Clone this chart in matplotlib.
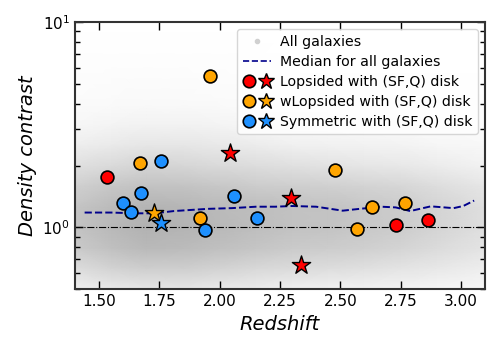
import matplotlib
matplotlib.use('Agg')
import matplotlib.pyplot as plt
from matplotlib.colors import LinearSegmentedColormap
from matplotlib.lines import Line2D
from matplotlib.legend_handler import HandlerTuple
import numpy as np

# background cloud of all galaxies, read as a density (0..1) on a coarse grid
grid_z = [1.40, 1.55, 1.70, 1.85, 2.00, 2.15, 2.30, 2.45, 2.60, 2.75, 2.90, 3.10]
grid_logd = [-0.30, -0.20, -0.10, 0.00, 0.10, 0.20, 0.30, 0.40, 0.50, 0.60, 0.80, 1.00]
cloud = [
    [0.18, 0.25, 0.30, 0.30, 0.25, 0.22, 0.18, 0.16, 0.15, 0.13, 0.11, 0.08],
    [0.40, 0.52, 0.58, 0.58, 0.52, 0.46, 0.42, 0.40, 0.36, 0.32, 0.27, 0.20],
    [0.62, 0.74, 0.82, 0.80, 0.74, 0.68, 0.62, 0.60, 0.56, 0.50, 0.42, 0.32],
    [0.70, 0.82, 0.90, 0.88, 0.82, 0.76, 0.72, 0.70, 0.65, 0.60, 0.50, 0.38],
    [0.68, 0.80, 0.88, 0.86, 0.80, 0.76, 0.72, 0.70, 0.65, 0.60, 0.50, 0.38],
    [0.55, 0.66, 0.72, 0.70, 0.66, 0.60, 0.58, 0.55, 0.52, 0.48, 0.40, 0.30],
    [0.36, 0.44, 0.50, 0.48, 0.44, 0.40, 0.36, 0.33, 0.30, 0.27, 0.22, 0.16],
    [0.20, 0.25, 0.30, 0.30, 0.26, 0.22, 0.18, 0.17, 0.16, 0.14, 0.11, 0.08],
    [0.10, 0.13, 0.16, 0.16, 0.13, 0.10, 0.08, 0.08, 0.07, 0.06, 0.05, 0.04],
    [0.05, 0.06, 0.07, 0.07, 0.06, 0.04, 0.04, 0.03, 0.03, 0.02, 0.02, 0.02],
    [0.02, 0.02, 0.025, 0.02, 0.02, 0.01, 0.0, 0.0, 0.0, 0.0, 0.0, 0.0],
    [0.0, 0.0, 0.0, 0.0, 0.0, 0.0, 0.0, 0.0, 0.0, 0.0, 0.0, 0.0],
]

# median density contrast vs redshift
med_z = [1.44, 1.55, 1.65, 1.73, 1.81, 1.95, 2.05, 2.15, 2.23, 2.30, 2.40, 2.51,
         2.58, 2.67, 2.73, 2.79, 2.875, 2.97, 3.01, 3.055]
med_d = [1.18, 1.18, 1.17, 1.17, 1.20, 1.23, 1.24, 1.26, 1.26, 1.27, 1.26, 1.205,
         1.23, 1.26, 1.25, 1.20, 1.265, 1.24, 1.27, 1.35]

# lopsided (red), weakly lopsided (orange), symmetric (blue); circles = SF, stars = Q
lop_sf_z = [1.533, 2.729, 2.865]
lop_sf_d = [1.76, 1.03, 1.09]
lop_q_z = [2.042, 2.295, 2.336]
lop_q_d = [2.31, 1.385, 0.655]

wlop_sf_z = [1.961, 1.671, 1.920, 2.479, 2.571, 2.630, 2.768]
wlop_sf_d = [5.43, 2.05, 1.114, 1.90, 0.984, 1.26, 1.314]
wlop_q_z = [1.726]
wlop_q_d = [1.17]

sym_sf_z = [1.757, 1.672, 1.597, 1.633, 1.9375, 2.061, 2.154]
sym_sf_d = [2.105, 1.475, 1.318, 1.191, 0.967, 1.426, 1.114]
sym_q_z = [1.757]
sym_q_d = [1.053]

fig = plt.figure(figsize=(5, 3.5), dpi=100)
ax = fig.add_axes([0.15, 0.174, 0.82, 0.763])

cmap = LinearSegmentedColormap.from_list('cloud', ['#ffffff', '#aaaaaa'])
ax.pcolormesh(grid_z, 10 ** np.array(grid_logd), np.array(cloud), cmap=cmap,
              vmin=0, vmax=1, shading='gouraud', zorder=0, rasterized=True)

ax.axhline(1.0, color='k', ls='-.', lw=0.8, zorder=1)
ax.plot(med_z, med_d, ls='--', color='darkblue', lw=1.4, zorder=2)

circ = dict(marker='o', s=85, edgecolors='k', linewidths=1.2, zorder=3)
star = dict(marker='*', s=190, edgecolors='k', linewidths=1.0, zorder=3)
ax.scatter(lop_sf_z, lop_sf_d, c='red', **circ)
ax.scatter(lop_q_z, lop_q_d, c='red', **star)
ax.scatter(wlop_sf_z, wlop_sf_d, c='orange', **circ)
ax.scatter(wlop_q_z, wlop_q_d, c='orange', **star)
ax.scatter(sym_sf_z, sym_sf_d, c='dodgerblue', **circ)
ax.scatter(sym_q_z, sym_q_d, c='dodgerblue', **star)

ax.set_yscale('log')
ax.set_xlim(1.4, 3.1)
ax.set_ylim(0.5, 10)
ax.set_xticks([1.5, 1.75, 2.0, 2.25, 2.5, 2.75, 3.0])
ax.set_xticklabels(['1.50', '1.75', '2.00', '2.25', '2.50', '2.75', '3.00'])
ax.tick_params(which='both', direction='in', top=True, right=True, labelsize=11)
ax.tick_params(which='major', length=6, width=1)
ax.tick_params(which='minor', length=3.5, width=1)
for s in ax.spines.values():
    s.set_linewidth(1.5)
    s.set_color('#333333')

ax.set_xlabel('Redshift', fontsize=14, style='italic')
ax.set_ylabel('Density contrast', fontsize=14, style='italic')

def pair(col):
    c = Line2D([], [], marker='o', ls='none', mfc=col, mec='k', ms=9, mew=1.2)
    st = Line2D([], [], marker='*', ls='none', mfc=col, mec='k', ms=12, mew=1.0)
    return (c, st)

handles = [Line2D([], [], marker='o', ls='none', color='#d0d0d0', ms=3),
           Line2D([], [], ls='--', color='darkblue', lw=1.2),
           pair('red'), pair('orange'), pair('dodgerblue')]
labels = ['All galaxies', 'Median for all galaxies',
          'Lopsided with (SF,Q) disk', 'wLopsided with (SF,Q) disk',
          'Symmetric with (SF,Q) disk']
ax.legend(handles, labels, loc='upper right', fontsize=10.2,
          handler_map={tuple: HandlerTuple(ndivide=None, pad=0.4)},
          handlelength=2.0, handletextpad=0.6, labelspacing=0.42,
          borderpad=0.4, framealpha=0.8)

fig.savefig('out.png', dpi=100)
